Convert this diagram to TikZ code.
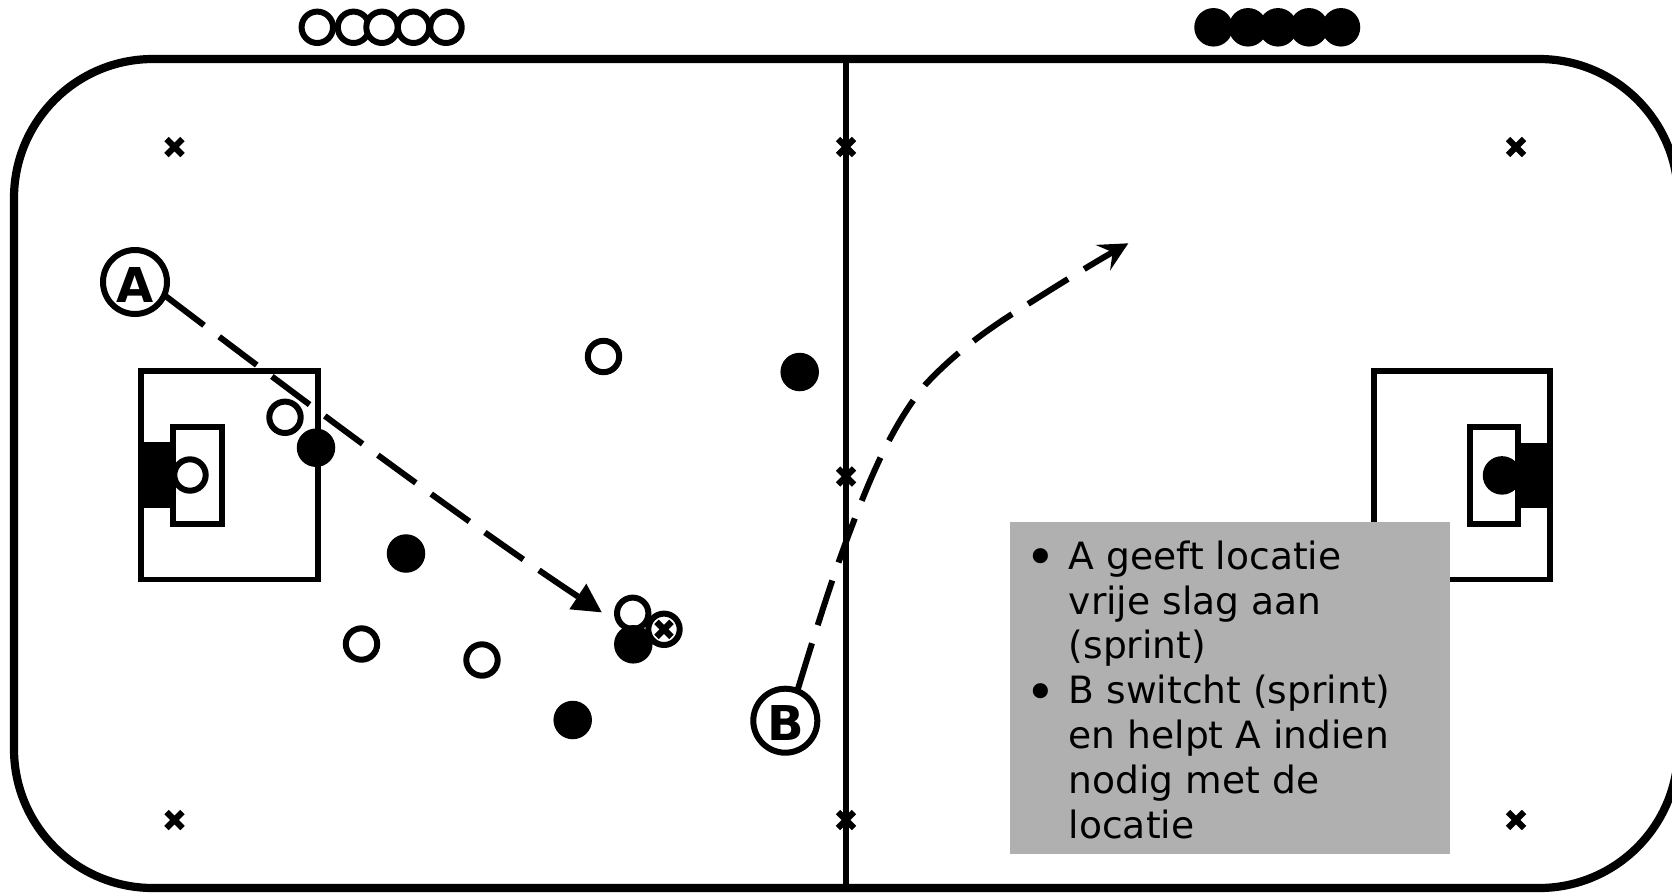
\documentclass[tikz,border=0pt]{standalone}
\usepackage{fontspec}
\setmainfont{DejaVu Sans}
\usetikzlibrary{arrows.meta,shapes.misc}
\definecolor{boxgrey}{HTML}{B0B0B0}
\newcommand{\notebullet}{\llap{\raisebox{-6.5pt}{\fontsize{52}{52}\selectfont •}\hspace{12.5pt}}}
\tikzset{
  field/.style={line width=8.2pt,draw=black},
  fieldline/.style={line width=6.4pt,draw=black},
  boxline/.style={line width=5.8pt,draw=black},
  openp/.style={circle,draw=black,fill=white,line width=6pt,minimum size=31.4pt,inner sep=0pt,outer sep=0pt},
  fullp/.style={circle,fill=black,minimum size=38.5pt,inner sep=0pt,outer sep=0pt},
  xmark/.style={cross out,draw=black,line width=6.3pt,minimum size=16pt,inner sep=0pt,outer sep=0pt},
  letterp/.style={circle,draw=black,fill=white,line width=6pt,minimum size=64pt,inner sep=0pt,outer sep=0pt,text height=40pt,text depth=0pt,font=\fontsize{48}{48}\selectfont\bfseries},
  run/.style={line width=6pt,draw=black,dash pattern=on 50pt off 19pt on 47pt off 19pt on 47pt off 19pt on 47pt off 19pt on 47pt off 19pt on 47pt off 19pt on 47pt off 19pt on 47pt off 19pt on 47pt off 19pt on 47pt off 19pt on 47pt off 19pt on 47pt off 19pt},
}
\begin{document}
\begin{tikzpicture}[x=1pt,y=-1pt]
\clip (0,0) rectangle (1672,892);
\fill[white] (0,0) rectangle (1672,892);
% pitch
\draw[field,rounded corners=139pt] (14,59) rectangle (1678,888);
\draw[fieldline] (846,59) -- (846,888);
% left box
\draw[boxline] (141.3,371) rectangle (318,579.5);
\fill[black] (141.3,441.7) rectangle (176,508.3);
\draw[boxline] (173.3,427) rectangle (222,524);
% right box
\draw[boxline] (1373.7,371) rectangle (1550.3,579.5);
\fill[black] (1518,442.5) rectangle (1550.3,508);
\draw[boxline] (1469.7,427) rectangle (1518.3,524);
% field crosses
\foreach \n/\px/\py in {c1/174.5/147,c2/846/147,c3/1516/147,c4/846/476.5,c5/174.5/820,c6/846/820,c7/1516/820}
  \node[xmark] (\n) at (\px,\py) {};
% queues
\foreach \n/\px in {q1/317.3,q2/353.5,q3/382,q4/413.5,q5/446}
  \node[openp] (\n) at (\px,27.3) {};
\foreach \n/\px in {r1/1213.5,r2/1248,r3/1278,r4/1309,r5/1341}
  \node[fullp] (\n) at (\px,27.3) {};
% players
\node[openp] (gk1) at (190,475) {};
\node[fullp] (gk2) at (1502,475.4) {};
\node[openp] (o1) at (285,417.3) {};
\node[fullp] (f1) at (316,447.7) {};
\node[openp] (o2) at (603.5,356.5) {};
\node[fullp] (f2) at (799.7,372) {};
\node[fullp] (f3) at (406,553.5) {};
\node[openp] (o3) at (361.5,644) {};
\node[openp] (o4) at (482,660) {};
\node[fullp] (f4) at (572.7,720) {};
\node[openp] (o5) at (632.7,613.3) {};
\node[fullp] (f5) at (633.3,644.3) {};
\node[openp] (ball) at (664,629.3) {};
\node[xmark,minimum size=15pt] (ballx) at (664,629.3) {};
\node[letterp] (A) at (135,282) {A};
\node[letterp] (B) at (785.3,720.7) {B};
% runs
\coordinate (endA) at (602,612.5);
\coordinate (endB) at (1128.3,243.3);
\draw[run,-{Triangle[length=29pt,width=29pt]}] (A.-24) .. controls (310,406) and (470,525) .. (endA);
\draw[run,-{Stealth[length=29pt,width=29pt,inset=11pt]}] (B.68) .. controls (825,600) and (838,562) .. (855,518)
  .. controls (872,474) and (893,424) .. (925,385)
  .. controls (950,358) and (978,336) .. (1011.7,314.3)
  .. controls (1050,290) and (1090,265) .. (endB);
% notes
\node[fill=boxgrey,minimum width=439.6pt,minimum height=332pt,inner sep=0pt,outer sep=0pt,anchor=north west] (notes) at (1009.9,522) {};
\node[anchor=north west,inner sep=0pt,align=left,font=\fontsize{37.6}{44.85}\selectfont] (notestext) at (1068.6,540.5) {%
\notebullet A geeft locatie\\
vrije slag aan\\
(sprint)\\
\notebullet B switcht (sprint)\\
en helpt A indien\\
nodig met de\\
locatie};
\end{tikzpicture}
\end{document}
